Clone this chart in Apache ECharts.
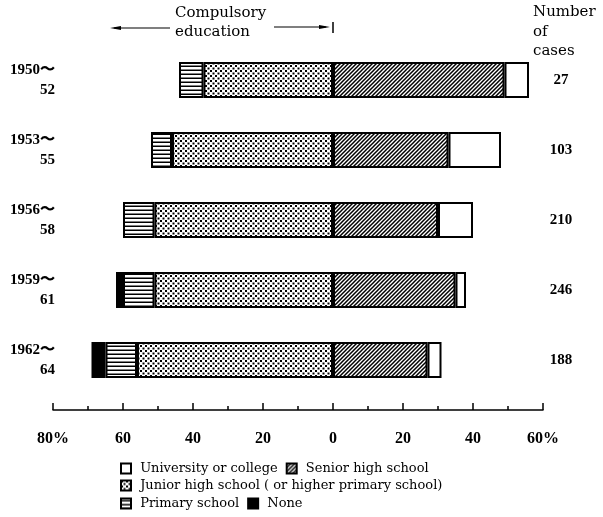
<!DOCTYPE html>
<html><head><meta charset="utf-8">
<script src="https://cdn.jsdelivr.net/npm/echarts@6/dist/echarts.min.js"></script>
<style>html,body{margin:0;padding:0;background:#fff}#c{width:603px;height:517px}</style>
</head><body><div id="c"></div>
<script>
// ---- data ----
const periodStart = ['1950', '1953', '1956', '1959', '1962'];
const periodEnd = ['52', '55', '58', '61', '64'];
const cases = [27, 103, 210, 246, 188];
const university = [7, 15, 10, 3, 4];
const seniorHigh = [49, 33, 30, 35, 27];
const juniorHigh = [37, 46, 51, 51, 56];
const primary = [7, 6, 9, 9, 9];
const none = [0, 0, 0, 2, 4];
const tickLabels = { '-80': '80%', '-60': '60', '-40': '40', '-20': '20', '0': '0', '20': '20', '40': '40', '60': '60%' };
const seriesNames = {
  univ: 'University or college',
  senior: 'Senior high school',
  junior: 'Junior high school ( or higher primary school)',
  primary: 'Primary school',
  none: 'None'
};

// ---- patterns ----
function makePattern(kind) {
  const c = document.createElement('canvas');
  let s = 4;
  if (kind === 'dots') s = 5;
  c.width = s; c.height = s;
  const g = c.getContext('2d');
  g.fillStyle = '#fff'; g.fillRect(0, 0, s, s);
  g.fillStyle = '#000'; g.strokeStyle = '#000';
  if (kind === 'diag') {
    g.lineWidth = 1.5;
    g.beginPath();
    g.moveTo(-1, s + 1); g.lineTo(s + 1, -1);
    g.moveTo(-1, 1); g.lineTo(1, -1);
    g.moveTo(s - 1, s + 1); g.lineTo(s + 1, s - 1);
    g.stroke();
  } else if (kind === 'dots') {
    g.fillRect(0, 0, 2, 2);
    g.fillRect(2.5, 2.5, 2, 2);
  } else if (kind === 'hlines') {
    g.fillRect(0, 1.5, s, 1.5);
  }
  return { image: c, repeat: 'repeat' };
}
const fills = {
  univ: '#ffffff',
  senior: makePattern('diag'),
  junior: makePattern('dots'),
  primary: makePattern('hlines'),
  none: '#000000'
};

const chart = echarts.init(document.getElementById('c'), null, { renderer: 'canvas' });
const serif = '"Liberation Serif", "DejaVu Serif", serif';
const wideSerif = '"DejaVu Serif", "Liberation Serif", serif';
const barW = 36;

function mkSeries(key, arr, sign) {
  return {
    name: seriesNames[key],
    type: 'bar',
    stack: 'total',
    barWidth: barW,
    data: arr.map(v => (v ? sign * v : '-')),
    itemStyle: { color: fills[key], borderColor: '#000', borderWidth: 2 },
    emphasis: { disabled: true },
    silent: true
  };
}

const legendBase = {
  left: 120, padding: 0, orient: 'horizontal', icon: 'rect', itemWidth: 10, itemHeight: 10, itemGap: 8,
  formatter: name => ' ' + name,
  textStyle: { fontFamily: wideSerif, fontSize: 13, color: '#000' },
  selectedMode: false
};

chart.setOption({
  animation: false,
  backgroundColor: '#fff',
  grid: { left: 53, right: 60, top: 45, bottom: 122 },
  xAxis: {
    type: 'value', min: -80, max: 60, interval: 20, offset: 15,
    axisLine: { show: true, lineStyle: { color: '#000', width: 1.5 } },
    axisTick: { show: true, inside: true, length: 7, lineStyle: { color: '#000', width: 1.5 } },
    minorTick: { show: true, splitNumber: 2, length: 4, lineStyle: { color: '#000', width: 1.5 } },
    splitLine: { show: false },
    axisLabel: {
      margin: 21, fontFamily: serif, fontSize: 16, fontWeight: 'bold', color: '#000',
      formatter: v => tickLabels[String(v)]
    }
  },
  yAxis: [
    {
      type: 'category', inverse: true, data: periodStart,
      axisLine: { show: false }, axisTick: { show: false },
      axisLabel: {
        margin: -2, align: 'right', color: '#000',
        formatter: (v, i) => '{a|' + v + '〜}\n{b|' + periodEnd[i] + '}',
        rich: {
          a: { fontFamily: serif, fontSize: 15, fontWeight: 'bold', lineHeight: 20, align: 'right' },
          b: { fontFamily: serif, fontSize: 15, fontWeight: 'bold', lineHeight: 20, align: 'right' }
        }
      }
    },
    {
      type: 'category', inverse: true, position: 'right', data: cases,
      axisLine: { show: false }, axisTick: { show: false },
      axisLabel: { margin: 18, align: 'center', fontFamily: serif, fontSize: 15, fontWeight: 'bold', color: '#000' }
    }
  ],
  legend: [
    Object.assign({}, legendBase, { top: 462, data: [seriesNames.univ, seriesNames.senior] }),
    Object.assign({}, legendBase, { top: 479, data: [seriesNames.junior] }),
    Object.assign({}, legendBase, { top: 497, data: [seriesNames.primary, seriesNames.none] })
  ],
  series: [
    mkSeries('senior', seniorHigh, 1),
    mkSeries('univ', university, 1),
    mkSeries('junior', juniorHigh, -1),
    mkSeries('primary', primary, -1),
    mkSeries('none', none, -1)
  ],
  graphic: [
    { type: 'text', left: 175, top: 6, style: { text: 'Compulsory', font: '15px ' + wideSerif, fill: '#000' } },
    { type: 'text', left: 175, top: 25, style: { text: 'education', font: '15px ' + wideSerif, fill: '#000' } },
    { type: 'line', shape: { x1: 114, y1: 28, x2: 170, y2: 28 }, style: { stroke: '#000', lineWidth: 1.2 } },
    { type: 'polygon', shape: { points: [[110, 28], [121, 26], [121, 30]] }, style: { fill: '#000' } },
    { type: 'line', shape: { x1: 274, y1: 27, x2: 326, y2: 27 }, style: { stroke: '#000', lineWidth: 1.2 } },
    { type: 'polygon', shape: { points: [[330, 27], [319, 25], [319, 29]] }, style: { fill: '#000' } },
    { type: 'line', shape: { x1: 333, y1: 22, x2: 333, y2: 33 }, style: { stroke: '#000', lineWidth: 1.5 } },
    { type: 'text', left: 533, top: 5, style: { text: 'Number', font: '15px ' + wideSerif, fill: '#000' } },
    { type: 'text', left: 533, top: 25, style: { text: 'of', font: '15px ' + wideSerif, fill: '#000' } },
    { type: 'text', left: 533, top: 44, style: { text: 'cases', font: '15px ' + wideSerif, fill: '#000' } }
  ]
});
</script>
</body></html>
